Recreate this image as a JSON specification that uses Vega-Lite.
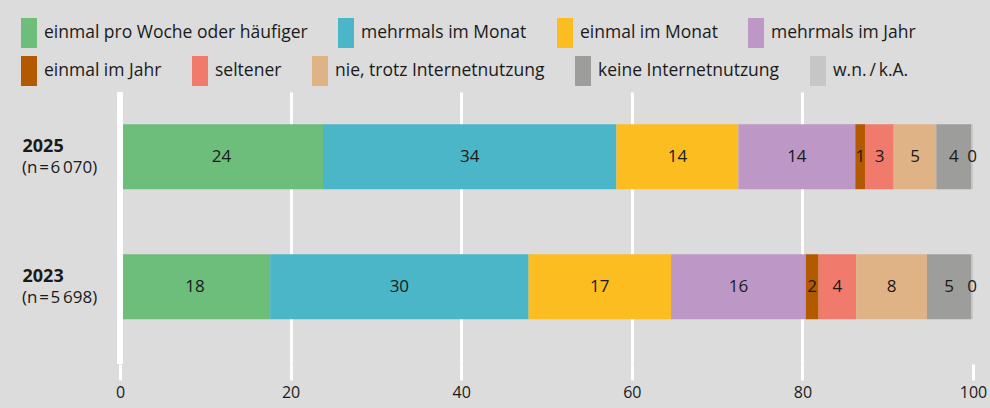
{
  "$schema": "https://vega.github.io/schema/vega-lite/v6.json",
  "autosize": "none",
  "width": 853,
  "height": 272,
  "padding": {"left": 120, "top": 92, "right": 17, "bottom": 44},
  "background": "#dcdcdc",
  "config": {
    "font": "Open Sans",
    "view": {"stroke": null},
    "legend": {"padding": 0}
  },
  "datasets": {
    "shares": [
      {"year": "2025", "grp": "a", "cat": "einmal pro Woche oder häufiger", "value": 23.8},
      {"year": "2025", "grp": "a", "cat": "mehrmals im Monat", "value": 34.4},
      {"year": "2025", "grp": "a", "cat": "einmal im Monat", "value": 14.3},
      {"year": "2025", "grp": "a", "cat": "mehrmals im Jahr", "value": 13.7},
      {"year": "2025", "grp": "b", "cat": "einmal im Jahr", "value": 1.2},
      {"year": "2025", "grp": "b", "cat": "seltener", "value": 3.3},
      {"year": "2025", "grp": "b", "cat": "nie, trotz Internetnutzung", "value": 5.0},
      {"year": "2025", "grp": "b", "cat": "keine Internetnutzung", "value": 4.1},
      {"year": "2025", "grp": "b", "cat": "w.n.\u2009/\u2009k.A.", "value": 0.2},
      {"year": "2023", "grp": "a", "cat": "einmal pro Woche oder häufiger", "value": 17.6},
      {"year": "2023", "grp": "a", "cat": "mehrmals im Monat", "value": 30.3},
      {"year": "2023", "grp": "a", "cat": "einmal im Monat", "value": 16.7},
      {"year": "2023", "grp": "a", "cat": "mehrmals im Jahr", "value": 15.8},
      {"year": "2023", "grp": "b", "cat": "einmal im Jahr", "value": 1.5},
      {"year": "2023", "grp": "b", "cat": "seltener", "value": 4.4},
      {"year": "2023", "grp": "b", "cat": "nie, trotz Internetnutzung", "value": 8.3},
      {"year": "2023", "grp": "b", "cat": "keine Internetnutzung", "value": 5.2},
      {"year": "2023", "grp": "b", "cat": "w.n.\u2009/\u2009k.A.", "value": 0.2}
    ],
    "samples": [
      {"year": "2025", "n": "(n\u200a=\u200a6\u2009070)"},
      {"year": "2023", "n": "(n\u200a=\u200a5\u2009698)"}
    ]
  },
  "data": {"name": "shares"},
  "encoding": {
    "y": {
      "field": "year",
      "type": "nominal",
      "sort": ["2025", "2023"],
      "scale": {"paddingInner": 0.5, "paddingOuter": 0.296, "align": 0.418},
      "axis": {
        "title": null,
        "domain": false,
        "ticks": false,
        "tickSize": 0,
        "grid": false,
        "labelAlign": "left",
        "labelPadding": 98,
        "labelOffset": -10,
        "labelFontSize": 18,
        "labelFontWeight": "bold",
        "labelColor": "#1a1a1a",
        "labelBaseline": "middle"
      }
    }
  },
  "layer": [
    {
      "transform": [
        {"stack": "value", "groupby": ["year"], "as": ["x0", "x1"]},
        {"filter": "datum.grp == 'a'"}
      ],
      "mark": {"type": "bar"},
      "encoding": {
        "x": {
          "field": "x0",
          "type": "quantitative",
          "scale": {"domain": [0, 100], "nice": false, "zero": true},
          "axis": {
            "title": null,
            "values": [0, 20, 40, 60, 80, 100],
            "domain": false,
            "grid": true,
            "gridColor": "white",
            "gridWidth": 3,
            "gridOpacity": {"condition": {"test": "datum.value == 0 || datum.value == 100", "value": 0}, "value": 1},
            "ticks": true,
            "tickColor": "white",
            "tickSize": 16,
            "tickWidth": 3,
            "labelFlush": false,
            "labelFontSize": 16,
            "labelColor": "#1a1a1a",
            "labelPadding": 4
          }
        },
        "x2": {"field": "x1"},
        "color": {
          "field": "cat",
          "type": "nominal",
          "scale": {
            "domain": ["einmal pro Woche oder häufiger", "mehrmals im Monat", "einmal im Monat", "mehrmals im Jahr"],
            "range": ["#6dbd7b", "#4ab6c8", "#fbbd1f", "#bd98c7"]
          },
          "legend": {
            "title": null,
            "orient": "none",
            "legendX": -106,
            "legendY": -74,
            "direction": "horizontal",
            "columns": 4,
            "columnPadding": 23,
            "symbolType": "M-0.533,-1H0.533V1H-0.533Z",
            "symbolSize": 900,
            "symbolStrokeWidth": 0,
            "labelOffset": 0,
            "labelFontSize": 17.5,
            "labelColor": "#1a1a1a",
            "labelLimit": 500
          }
        }
      }
    },
    {
      "transform": [
        {"stack": "value", "groupby": ["year"], "as": ["x0", "x1"]},
        {"filter": "datum.grp == 'b'"}
      ],
      "mark": {"type": "bar"},
      "encoding": {
        "x": {"field": "x0", "type": "quantitative"},
        "x2": {"field": "x1"},
        "fill": {
          "field": "cat",
          "type": "nominal",
          "scale": {
            "domain": ["einmal im Jahr", "seltener", "nie, trotz Internetnutzung", "keine Internetnutzung", "w.n.\u2009/\u2009k.A."],
            "range": ["#b35a00", "#f07b6d", "#e0b387", "#9d9d9b", "#c6c6c6"]
          },
          "legend": {
            "title": null,
            "orient": "none",
            "legendX": -106,
            "legendY": -36,
            "direction": "horizontal",
            "columns": 5,
            "columnPadding": 23,
            "symbolType": "M-0.533,-1H0.533V1H-0.533Z",
            "symbolSize": 900,
            "symbolStrokeWidth": 0,
            "labelOffset": 0,
            "labelFontSize": 17.5,
            "labelColor": "#1a1a1a",
            "labelLimit": 500
          }
        }
      }
    },
    {
      "mark": {"type": "rule", "color": "white", "strokeWidth": 6},
      "encoding": {"x": {"datum": 0, "type": "quantitative"}, "y": null}
    },
    {
      "transform": [
        {"stack": "value", "groupby": ["year"], "as": ["x0", "x1"]},
        {"fold": ["x0", "x1"], "as": ["edge", "pos"]},
        {"aggregate": [{"op": "mean", "field": "pos", "as": "mid"}], "groupby": ["year", "cat", "value"]}
      ],
      "mark": {"type": "text", "fontSize": 17, "color": "#1a1a1a", "align": "center", "baseline": "middle"},
      "encoding": {
        "x": {"field": "mid", "type": "quantitative"},
        "text": {"field": "value", "type": "quantitative", "format": ".0f"}
      }
    },
    {
      "data": {"name": "samples"},
      "mark": {"type": "text", "fontSize": 17, "color": "#1a1a1a", "align": "left", "baseline": "middle", "dx": -98, "dy": 11},
      "encoding": {
        "x": {"datum": 0, "type": "quantitative"},
        "text": {"field": "n", "type": "nominal"}
      }
    }
  ]
}
